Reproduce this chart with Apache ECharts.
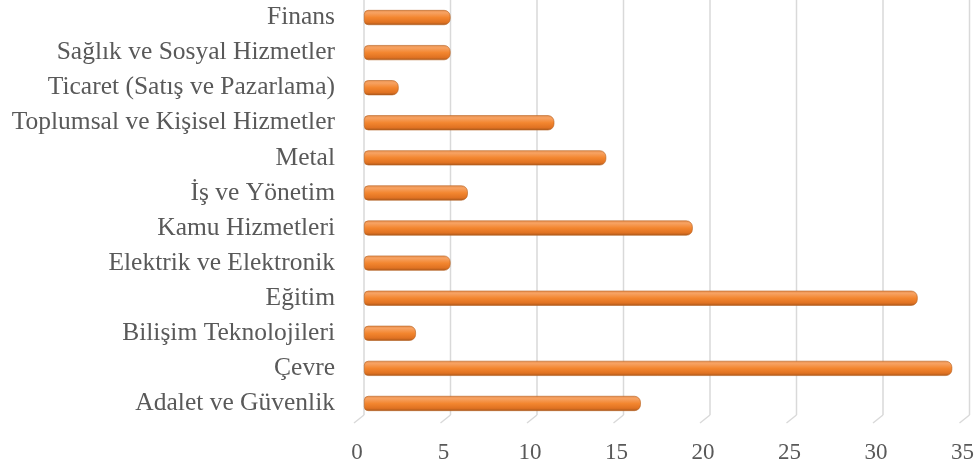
<!DOCTYPE html>
<html>
<head>
<meta charset="utf-8">
<script src="https://cdn.jsdelivr.net/npm/echarts@6/dist/echarts.min.js"></script>
<style>
html,body{margin:0;padding:0;background:#fff;}
#c{width:977px;height:468px;}
</style>
</head>
<body>
<div id="c"></div>
<script>
var categories = ["Adalet ve Güvenlik","Çevre","Bilişim Teknolojileri","Eğitim","Elektrik ve Elektronik","Kamu Hizmetleri","İş ve Yönetim","Metal","Toplumsal ve Kişisel Hizmetler","Ticaret (Satış ve Pazarlama)","Sağlık ve Sosyal Hizmetler","Finans"];
var values = [16,34,3,32,5,19,6,14,11,2,5,5];
var xTicks = [0,5,10,15,20,25,30,35];

var chart = echarts.init(document.getElementById('c'));
chart.setOption({
  animation:false,
  grid:{left:364,right:2,top:-9,bottom:47,containLabel:false},
  xAxis:{
    type:'value',min:0,max:35,interval:5,
    axisLine:{show:false},axisTick:{show:false},
    splitLine:{show:false},
    axisLabel:{
      color:'#595959',fontFamily:'Liberation Serif',fontSize:23,margin:20,
      padding:[0,14,0,0],
      formatter:function(v){return xTicks.indexOf(v)>=0?String(v):'';}
    }
  },
  yAxis:{
    type:'category',data:categories,
    axisLine:{show:false},axisTick:{show:false},
    axisLabel:{color:'#595959',fontFamily:'Liberation Serif',fontSize:25.5,margin:29}
  },
  series:[{
    type:'custom',
    data:xTicks,
    silent:true,
    z:0,
    encode:{x:0},
    renderItem:function(params,api){
      var cs=params.coordSys;
      var x=api.coord([api.value(0),0])[0];
      var top=cs.y, bot=cs.y+cs.height-6;
      var st={stroke:'#d9d9d9',lineWidth:1.5,fill:null};
      return {type:'group',children:[
        {type:'line',shape:{x1:x,y1:top,x2:x,y2:bot},style:st},
        {type:'line',shape:{x1:x,y1:bot,x2:x-10,y2:bot+8},style:st}
      ]};
    }
  },{
    type:'bar',data:values,barWidth:15,z:2,
    itemStyle:{
      borderRadius:[4,6,6,4],
      borderColor:'#B5601F',borderWidth:0.6,
      color:new echarts.graphic.LinearGradient(0,0,0,1,[
        {offset:0,color:'#E8904F'},
        {offset:0.18,color:'#F7A262'},
        {offset:0.5,color:'#F3862F'},
        {offset:0.82,color:'#E07222'},
        {offset:1,color:'#A8571C'}
      ])
    }
  }]
});
</script>
</body>
</html>
